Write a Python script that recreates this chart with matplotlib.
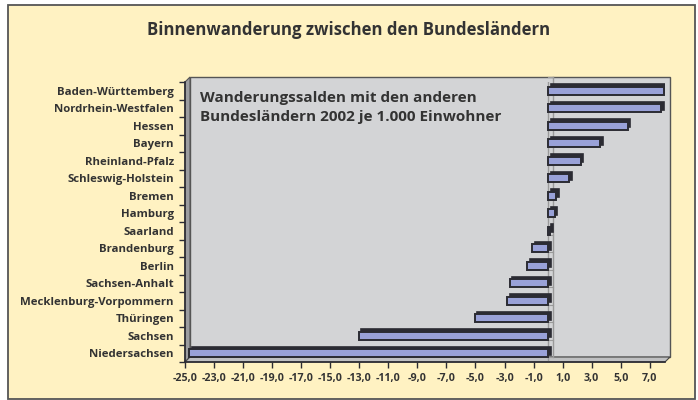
import matplotlib.pyplot as plt
import matplotlib.transforms as mtransforms
from matplotlib.patches import Polygon

# data, top to bottom as in the chart
states = [
    "Baden-Württemberg", "Nordrhein-Westfalen", "Hessen", "Bayern",
    "Rheinland-Pfalz", "Schleswig-Holstein", "Bremen", "Hamburg", "Saarland",
    "Brandenburg", "Berlin", "Sachsen-Anhalt", "Mecklenburg-Vorpommern",
    "Thüringen", "Sachsen", "Niedersachsen",
]
saldo = [7.95, 7.8, 5.5, 3.6, 2.25, 1.45, 0.55, 0.45, 0.15,
         -1.1, -1.45, -2.65, -2.8, -5.05, -13.05, -24.7]
xticks = list(range(-25, 8, 2))

W, H = 698, 400
PANEL = "#FFF2C2"
WALL = "#D3D4D6"
BAR = "#99A1D8"
DARK = "#2B2B33"
TXT = "#333333"
FONT = "Open Sans"


def fx(x):
    return x / W


def fy(y):
    return 1 - y / H


def fig_poly(pts, **kw):
    p = Polygon([(fx(x), fy(y)) for x, y in pts], closed=True,
                transform=fig.transFigure, **kw)
    fig.add_artist(p)
    return p


fig = plt.figure(figsize=(W / 100, H / 100), dpi=100, facecolor="white")

# yellow panel
fig_poly([(8, 5), (695, 5), (695, 399), (8, 399)], facecolor=PANEL,
         edgecolor="#555555", linewidth=1.3, zorder=-3)

# 3d frame: back wall, left wall, floor
L, R, T, B, D = 185, 665, 82, 362, 5
fig_poly([(L + D, T - D), (R + D, T - D), (R + D, B - D), (L + D, B - D)],
         facecolor=WALL, edgecolor="#555555", linewidth=1.0, zorder=-2)
fig_poly([(L, T), (L + D, T - D), (L + D, B - D), (L, B)],
         facecolor="#9C9DA0", edgecolor="#555555", linewidth=0.8, zorder=-1)
fig_poly([(L, B), (L + D, B - D), (R + D, B - D), (R, B)],
         facecolor="#BFC0C2", edgecolor="#444444", linewidth=0.8, zorder=-1)

ax = fig.add_axes([fx(L), fy(B), fx(R - L), (B - T) / H])
ax.set_facecolor("none")
ax.set_zorder(1)

n = len(states)
ypos = list(range(n - 1, -1, -1))

# zero line (front and back)
ax.axvline(0, color="#9A9A9A", linewidth=1.0, zorder=1)
back = mtransforms.offset_copy(ax.transData, fig=fig, x=D, y=D, units="dots")
ax.plot([0, 0], [-0.5, n - 0.5], color="#9A9A9A", linewidth=1.0,
        transform=back, zorder=1, clip_on=False)
for b in range(n + 1):
    ax.plot([-0.35, 0], [b - 0.5, b - 0.5], color="#9A9A9A", linewidth=0.8,
            transform=back, zorder=1, clip_on=False)

# bars with a dark shifted copy for depth
depth = mtransforms.offset_copy(ax.transData, fig=fig, x=2.5, y=2.5, units="dots")
ax.barh(ypos, saldo, height=0.45, color=DARK, edgecolor=DARK,
        linewidth=1.2, transform=depth, zorder=2)
ax.barh(ypos, saldo, height=0.45, color=BAR, edgecolor=DARK,
        linewidth=1.4, zorder=3)

ax.set_xlim(-25, 8.05)
ax.set_ylim(-0.5, n - 0.5)

ax.set_xticks(xticks)
ax.set_xticklabels([f"{v:.1f}".replace(".", ",") for v in xticks],
                   fontsize=7.7, fontweight="bold", color=TXT, family=FONT)
ax.tick_params(axis="x", length=4, width=1, color=DARK, pad=4)

ax.set_yticks(ypos)
ax.set_yticklabels(states, fontsize=8.2, fontweight="bold", color=TXT,
                   family=FONT)
ax.set_yticks([b - 0.5 for b in range(n + 1)], minor=True)
ax.tick_params(axis="y", which="major", length=0, pad=8)
ax.tick_params(axis="y", which="minor", length=4, width=1, color=DARK)

for side in ["top", "right"]:
    ax.spines[side].set_visible(False)
ax.spines["left"].set_color(DARK)
ax.spines["left"].set_linewidth(1.2)
ax.spines["bottom"].set_color(DARK)
ax.spines["bottom"].set_linewidth(1.2)

fig.text(0.5, fy(30), "Binnenwanderung zwischen den Bundesländern",
         ha="center", va="center", fontsize=12.1, fontweight="bold",
         color=TXT, family=FONT)
fig.text(fx(200), fy(107.5),
         "Wanderungssalden mit den anderen\nBundesländern 2002 je 1.000 Einwohner",
         ha="left", va="center", fontsize=11, fontweight="bold", color=TXT,
         family=FONT, linespacing=1.45, zorder=5)

fig.savefig("out.png", dpi=100)
